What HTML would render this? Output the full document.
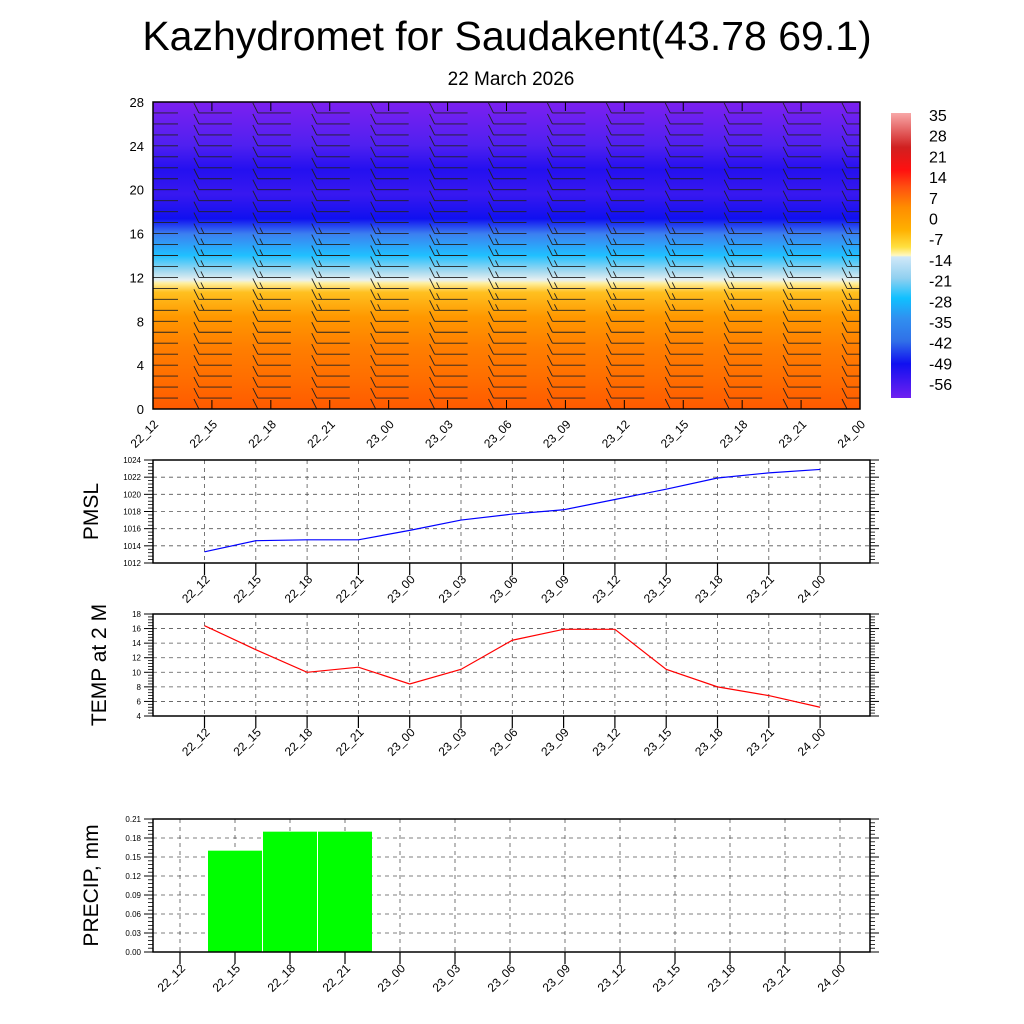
<!DOCTYPE html>
<html><head><meta charset="utf-8"><style>
body{margin:0;background:#fff;}
svg{display:block;font-family:"Liberation Sans",sans-serif;}
</style></head><body>
<svg id="c" width="1024" height="1024" viewBox="0 0 1024 1024">
<defs>
<clipPath id="clipTop"><rect x="153" y="102" width="707" height="307"/></clipPath>
<linearGradient id="tg" x1="0" y1="1" x2="0" y2="0">
<stop offset="0" stop-color="#ff5a00"/>
<stop offset="0.1" stop-color="#ff6e00"/>
<stop offset="0.2" stop-color="#ff7e00"/>
<stop offset="0.3" stop-color="#ff9800"/>
<stop offset="0.38" stop-color="#ffc020"/>
<stop offset="0.41" stop-color="#fff0a0"/>
<stop offset="0.42" stop-color="#e8f0f0"/>
<stop offset="0.45" stop-color="#a0d8f0"/>
<stop offset="0.5" stop-color="#20c0ff"/>
<stop offset="0.57" stop-color="#3c80f0"/>
<stop offset="0.62" stop-color="#1010f0"/>
<stop offset="0.7" stop-color="#3818f0"/>
<stop offset="0.78" stop-color="#2410f0"/>
<stop offset="0.86" stop-color="#5020f0"/>
<stop offset="1" stop-color="#7c20f0"/>
</linearGradient>
<linearGradient id="cg" x1="0" y1="0" x2="0" y2="1">
<stop offset="0" stop-color="#f8a8a8"/>
<stop offset="0.12" stop-color="#d02020"/>
<stop offset="0.2" stop-color="#ff1010"/>
<stop offset="0.26" stop-color="#ff5010"/>
<stop offset="0.33" stop-color="#ff8c00"/>
<stop offset="0.41" stop-color="#ffb000"/>
<stop offset="0.47" stop-color="#ffe040"/>
<stop offset="0.5" stop-color="#fff8c0"/>
<stop offset="0.505" stop-color="#d0e8f8"/>
<stop offset="0.58" stop-color="#90d0f0"/>
<stop offset="0.65" stop-color="#10c0ff"/>
<stop offset="0.72" stop-color="#3090f0"/>
<stop offset="0.8" stop-color="#3070e8"/>
<stop offset="0.88" stop-color="#1010f0"/>
<stop offset="1" stop-color="#7020f0"/>
</linearGradient>
</defs>
<text x="507" y="50" font-size="41" text-anchor="middle">Kazhydromet for Saudakent(43.78 69.1)</text>
<text x="511" y="85" font-size="19" text-anchor="middle">22 March 2026</text>
<rect x="153" y="102" width="707" height="307" fill="url(#tg)"/>
<rect x="891" y="113" width="20" height="285" fill="url(#cg)"/>
<g id="barbs" clip-path="url(#clipTop)"></g>
<g id="topG"></g>
<g id="panels"></g>
</svg>
<script>
const NS="http://www.w3.org/2000/svg";
const times=["22_12","22_15","22_18","22_21","23_00","23_03","23_06","23_09","23_12","23_15","23_18","23_21","24_00"];
const heightTicks=[0,4,8,12,16,20,24,28];
const cbLabels=["35","28","21","14","7","0","-7","-14","-21","-28","-35","-42","-49","-56"];
const pmsl=[1013.3,1014.6,1014.7,1014.7,1015.8,1017.0,1017.7,1018.2,1019.4,1020.6,1021.9,1022.5,1022.9];
const pmslTicks=[1012,1014,1016,1018,1020,1022,1024];
const temp2m=[16.4,13.1,10.0,10.7,8.4,10.4,14.4,15.9,15.9,10.4,8.0,6.8,5.2];
const tempTicks=[4,6,8,10,12,14,16,18];
const precip=[0,0.16,0.19,0.19,0,0,0,0,0,0,0,0,0];
const precipTicks=[0.00,0.03,0.06,0.09,0.12,0.15,0.18,0.21];
const svgEl=document.getElementById('c');
function el(tag,attrs,parent){const e=document.createElementNS(NS,tag);for(const k in attrs)e.setAttribute(k,attrs[k]);(parent||svgEl).appendChild(e);return e;}
function txt(s,attrs,parent){const e=el('text',attrs,parent);e.textContent=s;return e;}
const topG=document.getElementById('topG');
const barbs=document.getElementById('barbs');
const tx=i=>153+i*(707/12), hy=h=>409-h*(307/28);
for(let i=0;i<times.length;i++){
  for(let h=0;h<=28;h++){
    const x=tx(i),y=hy(h);
    const g=el('g',{},barbs);
    
    
    if(i===0){el('line',{x1:x,y1:y,x2:x+25,y2:y,stroke:'#222','stroke-width':0.9},g);continue;}
    el('line',{x1:x-13,y1:y,x2:x+20,y2:y,stroke:'#222','stroke-width':0.9},g);
    el('line',{x1:x-13,y1:y,x2:x-18,y2:y-10,stroke:'#222','stroke-width':0.9},g);
    if(h>8&&h<17)el('line',{x1:x-8,y1:y,x2:x-11,y2:y-6,stroke:'#222','stroke-width':0.9},g);
  }
}
el('rect',{x:153,y:102,width:707,height:307,fill:'none',stroke:'#000','stroke-width':1.5},topG);
heightTicks.forEach(h=>{const y=hy(h);
  const t=txt(String(h),{x:144,y:y+5,'font-size':13,'text-anchor':'end'},topG);
  });
times.forEach((s,i)=>{const x=tx(i);
  el('line',{x1:x,y1:409,x2:x,y2:400,stroke:'#000'},topG);el('line',{x1:x,y1:102,x2:x,y2:111,stroke:'#000'},topG);
  const t=txt(s,{x:0,y:0,'font-size':12,'text-anchor':'end',transform:`translate(${x+6},${425}) rotate(-45)`},topG);
  });
cbLabels.forEach((s,i)=>{const t=txt(s,{x:929,y:121+i*20.7,'font-size':16},topG);
  });

function panel(o){
  const g=el('g',{},document.getElementById('panels'));
  
  
  const L=153,R=870,T=o.top,B=o.bottom,min=o.ticks[0],max=o.ticks[o.ticks.length-1];
  const y=v=>B-(v-min)/(max-min)*(B-T);
  const x=i=>o.x0+i*o.dx;
  o.ticks.forEach((v,k)=>{
    if(k>0&&k<o.ticks.length-1)el('line',{x1:L,y1:y(v),x2:R,y2:y(v),stroke:'#555','stroke-dasharray':'4,4','stroke-width':0.8},g);
    el('line',{x1:L-9,y1:y(v),x2:L,y2:y(v),stroke:'#000'},g);
    el('line',{x1:R,y1:y(v),x2:R+9,y2:y(v),stroke:'#000'},g);
    if(k<o.ticks.length-1)for(let m=1;m<5;m++){const yy=y(v)+(y(o.ticks[k+1])-y(v))*m/5;
      el('line',{x1:L-5,y1:yy,x2:L,y2:yy,stroke:'#000','stroke-width':0.8},g);
      el('line',{x1:R,y1:yy,x2:R+5,y2:yy,stroke:'#000','stroke-width':0.8},g);}
    const t=txt(o.fmt(v),{x:L-12,y:y(v)+3,'font-size':8,'text-anchor':'end'},g);
    
  });
  times.forEach((s,i)=>{const xx=x(i);
    el('line',{x1:xx,y1:T,x2:xx,y2:B,stroke:'#555','stroke-dasharray':'4,4','stroke-width':0.8},g);
    el('line',{x1:xx,y1:B,x2:xx,y2:B+12,stroke:'#000','stroke-width':1.2},g);
    const t=txt(s,{x:0,y:0,'font-size':12,'text-anchor':'end',transform:`translate(${xx+6},${B+17}) rotate(-45)`},g);
    });
  if(o.bars){o.values.forEach((v,i)=>{if(v<=0)return;
    const b=el('rect',{x:x(i)-27,y:y(v),width:54,height:B-y(v),fill:'#00ff00'},g);
    });}
  else{const p=el('polyline',{points:o.values.map((v,i)=>x(i)+','+y(v)).join(' '),fill:'none',stroke:o.color,'stroke-width':1.2},g);
    }
  el('rect',{x:L,y:T,width:R-L,height:B-T,fill:'none',stroke:'#000','stroke-width':1.5},g);
  const t=txt(o.title,{x:0,y:0,'font-size':21,'text-anchor':'middle',transform:`translate(${o.tx},${(T+B)/2}) rotate(-90)`},g);
  
}
panel({name:'pmsl-panel',top:460,bottom:563,ticks:pmslTicks,values:pmsl,color:'#0000ff',x0:204.5,dx:51.3,fmt:v=>String(v),title:'PMSL',tx:98});
panel({name:'temp-panel',top:614,bottom:716,ticks:tempTicks,values:temp2m,color:'#ff0000',x0:204.5,dx:51.3,fmt:v=>String(v),title:'TEMP at 2 M',tx:106});
panel({name:'precip-panel',top:819,bottom:952,ticks:precipTicks,values:precip,bars:true,x0:180,dx:55,fmt:v=>v.toFixed(2),title:'PRECIP, mm',tx:98});
</script>
</body></html>
